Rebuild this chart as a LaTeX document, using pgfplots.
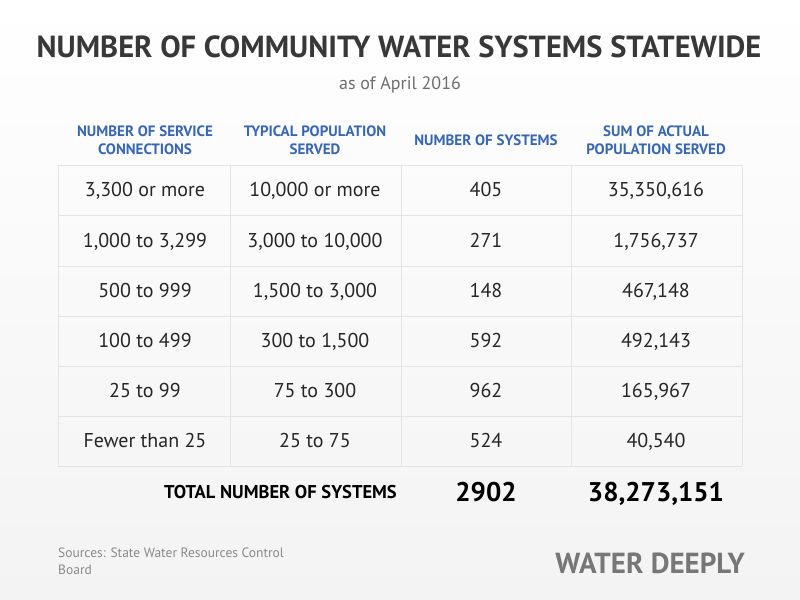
\documentclass[border=0pt]{standalone}
\usepackage{pgfplots}
\usepackage{pgfplotstable}
\pgfplotsset{compat=1.18}
\usepackage{fontspec}
\setmainfont{PT Sans}
\definecolor{titlegray}{HTML}{383838}
\definecolor{subgray}{HTML}{6E6E6E}
\definecolor{hdrblue}{HTML}{3767B2}
\definecolor{gridgray}{HTML}{E4E4E4}
\definecolor{srcgray}{HTML}{8A8A8A}
\definecolor{logogray}{HTML}{777777}
\definecolor{bgbottom}{HTML}{F3F3F3}

\pgfplotstableread[col sep=semicolon]{
x;y;t
145;137;NUMBER OF SERVICE
145;155;CONNECTIONS
315;137;TYPICAL POPULATION
315;155;SERVED
486;146;NUMBER OF SYSTEMS
656;137;SUM OF ACTUAL
656;155;POPULATION SERVED
}\headers

\pgfplotstableread[col sep=semicolon]{
x;y;t
145;197;3,300 or more
315;197;10,000 or more
486;197;405
656;197;35,350,616
145;247;1,000 to 3,299
315;247;3,000 to 10,000
486;247;271
656;247;1,756,737
145;297;500 to 999
315;297;1,500 to 3,000
486;297;148
656;297;467,148
145;347;100 to 499
315;347;300 to 1,500
486;347;592
656;347;492,143
145;397;25 to 99
315;397;75 to 300
486;397;962
656;397;165,967
145;447;Fewer than 25
315;447;25 to 75
486;447;524
656;447;40,540
}\body

\pgfplotstableread[col sep=semicolon]{
x;y;t
486;501;2902
656;501;38,273,151
}\totals

\begin{document}
\begin{tikzpicture}
\begin{axis}[
  width=800bp, height=600bp, scale only axis,
  xmin=0, xmax=800, ymin=0, ymax=600, y dir=reverse,
  axis lines=none, clip=false,
]
\shade[top color=white, bottom color=bgbottom] (axis cs:0,0) rectangle (axis cs:800,600);

% grid
\pgfplotsinvokeforeach{166,216,266,316,366,416,466}{
  \draw[gridgray, line width=1bp] (axis cs:58,#1) -- (axis cs:742,#1);
}
\pgfplotsinvokeforeach{58,230,401,571,742}{
  \draw[gridgray, line width=1bp] (axis cs:#1,166) -- (axis cs:#1,466);
}

% title
\node[anchor=base, inner sep=0pt, font=\bfseries\fontsize{30.5bp}{33bp}\selectfont, text=titlegray] at (axis cs:399,58) {NUMBER OF COMMUNITY WATER SYSTEMS STATEWIDE};
\node[anchor=base, inner sep=0pt, font=\fontsize{18bp}{21bp}\selectfont, text=subgray] at (axis cs:400,90) {as of April 2016};

\addplot[draw=none, nodes near coords, point meta=explicit symbolic,
  nodes near coords style={anchor=base, inner sep=0pt, font=\bfseries\fontsize{15bp}{17bp}\selectfont, text=hdrblue}]
  table[x=x, y=y, meta=t]{\headers};

\addplot[draw=none, nodes near coords, point meta=explicit symbolic,
  nodes near coords style={anchor=base, inner sep=0pt, font=\fontsize{20bp}{24bp}\selectfont, text=black!85}]
  table[x=x, y=y, meta=t]{\body};

\addplot[draw=none, nodes near coords, point meta=explicit symbolic,
  nodes near coords style={anchor=base, inner sep=0pt, font=\bfseries\fontsize{27bp}{30bp}\selectfont, text=black}]
  table[x=x, y=y, meta=t]{\totals};

\node[anchor=base east, inner sep=0pt, font=\bfseries\fontsize{18.5bp}{21bp}\selectfont, text=black] at (axis cs:397,498) {TOTAL NUMBER OF SYSTEMS};

\node[anchor=base west, inner sep=0pt, font=\fontsize{13.5bp}{16bp}\selectfont, text=srcgray] at (axis cs:58,557) {Sources: State Water Resources Control};
\node[anchor=base west, inner sep=0pt, font=\fontsize{13.5bp}{16bp}\selectfont, text=srcgray] at (axis cs:58,574) {Board};

\node[anchor=base east, inner sep=0pt, font=\bfseries\fontsize{29bp}{32bp}\selectfont, text=logogray] at (axis cs:745,573) {WATER DEEPLY};
\end{axis}
\end{tikzpicture}
\end{document}
